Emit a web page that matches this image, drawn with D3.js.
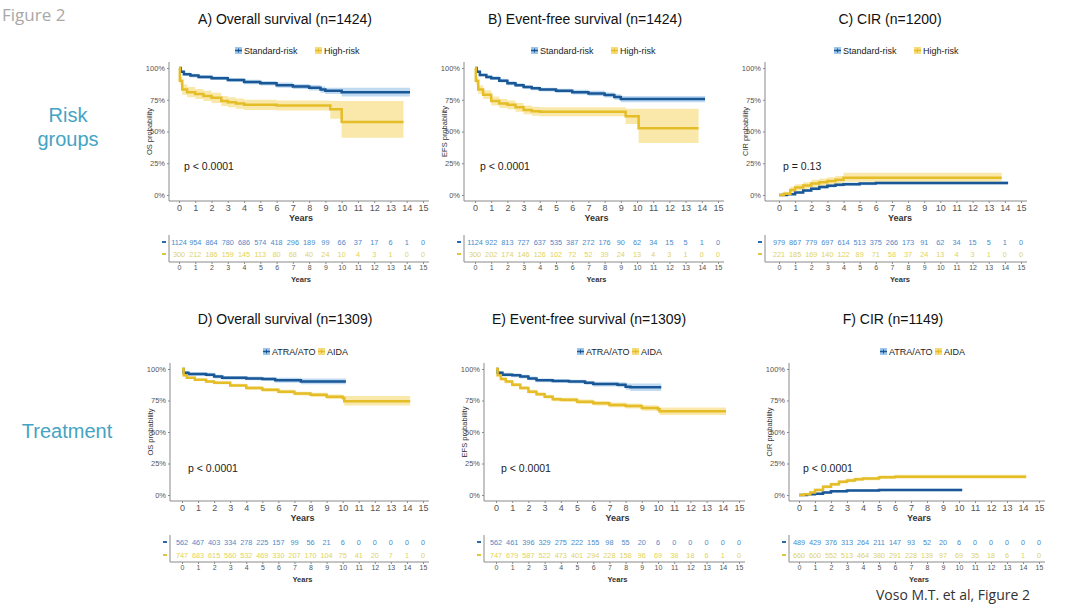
<!DOCTYPE html>
<html><head><meta charset="utf-8">
<script src="https://cdn.jsdelivr.net/npm/d3@7"></script>
<style>body{margin:0;background:#fff}text{font-family:"Liberation Sans",Arial,sans-serif}</style>
</head><body>
<svg id="c" width="1080" height="607"></svg>
<script>
// ---------------- DATA ----------------
const yearTicks = [0,1,2,3,4,5,6,7,8,9,10,11,12,13,14,15];
const pctTicks = [0,25,50,75,100];
const riskGroups = ["Standard-risk","High-risk"];
const treatments = ["ATRA/ATO","AIDA"];
const panelTitles = ["A) Overall survival (n=1424)","B) Event-free survival (n=1424)","C) CIR (n=1200)",
                     "D) Overall survival (n=1309)","E) Event-free survival (n=1309)","F) CIR (n=1149)"];
const yLabels = ["OS probability","EFS probability","CIR probability","OS probability","EFS probability","CIR probability"];
const pValues = ["p < 0.0001","p < 0.0001","p = 0.13","p < 0.0001","p < 0.0001","p < 0.0001"];

// [years, estimate %, lower %, upper %]
const osStandard = [[0,100,100,100],[0.1,97,96,98],[0.3,95,94,96.5],[0.7,94,92.5,95.5],[1.2,93,91.5,94.5],[2,92,90.5,93.5],[3,90.5,89,92],[4,89,87.3,90.7],[5,88,86.2,89.8],[6,86.5,84.5,88.5],[7,85.5,83.5,87.5],[8,84.5,82.3,86.7],[8.7,83,80.5,85.5],[9,82,79.5,84.5],[10,81,77.5,84.5],[14.2,81,77.5,84.5]];
const osHigh = [[0,100,100,100],[0.05,90,87,93],[0.2,83,79,87],[0.5,81,77,85],[1,79.5,75.5,83.5],[1.5,78,74,82],[2,76.5,72.5,80.5],[2.6,74,70,78],[3,73,69,77],[3.5,72,68,76],[4,71,67,75],[6,70.5,66.5,74.5],[9.3,67.5,60,74],[10,57.5,45,74],[13.8,57.5,45,74]];
const efsStandard = [[0,100,100,100],[0.1,97,96,98],[0.3,94.5,93.5,95.5],[0.7,93,91.5,94.5],[1,92,90.5,93.5],[1.5,90,88.5,91.5],[2,88,86.5,89.5],[2.5,86.5,85,88],[3,85,83.5,86.5],[3.5,84,82.5,85.5],[4,83,81.5,84.5],[5,82,80.3,83.7],[6,81,79.2,82.8],[7,80,78,82],[8,78.8,76.8,80.8],[8.6,77.2,75,79.4],[9,75.5,73,78],[14.2,75.5,73,78]];
const efsHigh = [[0,100,100,100],[0.05,90,87,93],[0.2,83,79.5,86.5],[0.5,79,75.5,82.5],[1,74,70.5,77.5],[1.5,72,68.5,75.5],[2,71,67.5,74.5],[2.5,69,65.5,72.5],[3,67,63.5,70.5],[3.5,66,62.5,69.5],[4,65.5,62,69],[9.3,62,56,68],[10.1,52.5,41,68],[13.8,52.5,41,68]];
const cirStandard = [[0,0,0,0],[0.5,0.5,0,1.5],[1,2,1,3],[1.5,3.5,2.3,4.7],[2,5,3.7,6.3],[2.5,6.3,5,7.6],[3,7.3,6,8.6],[3.5,8,6.7,9.3],[4,8.5,7.2,9.8],[5,9,7.7,10.3],[6,9.5,8.2,10.8],[14.2,9.5,8.2,10.8]];
const cirHigh = [[0,0,0,0],[0.3,1,0,2.5],[0.7,4,2,6.5],[1,6,3.5,8.5],[1.5,7.5,5,10],[2,9,6,12],[2.5,10,7,13],[3,11,8,14],[3.5,12,9,15],[4,13.5,10.5,17.5],[13.8,13.5,10.5,17.5]];
const osAtra = [[0,100,100,100],[0.1,97,96,98.5],[0.4,96,94.5,97.5],[1.5,95.5,94,97],[2,94,92.5,95.5],[2.5,93,91.5,94.5],[4,92.5,91,94],[5,92,90.5,93.5],[5.8,91,89,93],[7.4,90,87.8,92.5],[10.2,90,87.8,92.5]];
const osAida = [[0,100,100,100],[0.1,95,94,96],[0.3,93,92,94],[0.8,91.5,90.5,92.5],[1.5,90,88.8,91.2],[2,89,87.8,90.2],[3,87,85.7,88.3],[4,85,83.6,86.4],[5,83.5,82,85],[6,82,80.5,83.5],[7,80.5,79,82],[8,79.5,77.8,81.2],[9,78,76.2,79.8],[10,77,75,79],[10.1,74.5,71,78.5],[14.2,74.5,71,78.5]];
const efsAtra = [[0,100,100,100],[0.1,97,96,98.5],[0.4,95.5,94,97],[1,95,93.5,96.5],[1.5,94,92.5,95.5],[2,92.5,91,94],[2.5,91,89.5,92.5],[3.5,90.5,89,92],[4.5,90,88.5,91.5],[5.5,89,87.5,90.5],[6,88,86.2,89.8],[7.5,87.5,85.5,89.5],[8,86,83.5,88.5],[8.3,85.5,82.5,88.5],[10.2,85.5,82.5,88.5]];
const efsAida = [[0,100,100,100],[0.1,95,94,96],[0.3,92,90.8,93.2],[0.6,90,88.7,91.3],[1,87.5,86.2,88.8],[1.5,85,83.6,86.4],[2,82,80.5,83.5],[2.5,80,78.5,81.5],[3,78,76.5,79.5],[3.5,76,74.4,77.6],[4,75.5,73.9,77.1],[5,74,72.3,75.7],[6,72.8,71,74.6],[7,71.5,69.6,73.4],[8,70.6,68.6,72.6],[9,69,66.8,71.2],[10,68,65.5,70.5],[10.1,66.5,63.5,69.5],[14.2,66.5,63.5,69.5]];
const cirAtra = [[0,0,0,0],[0.5,0.5,0,1],[1,1,0.3,1.7],[1.5,2,1,3],[2,3,2,4],[3,3.5,2.5,4.5],[5,4,3,5],[10.2,4,3,5]];
const cirAida = [[0,0,0,0],[0.3,0.5,0,1],[0.7,2,1,3],[1,4,3,5],[1.5,6.5,5.3,7.7],[2,8.5,7.2,9.8],[2.5,10.5,9.2,11.8],[3,11.5,10.2,12.8],[3.5,12.5,11.2,13.8],[4,13,11.7,14.3],[5,14,12.6,15.4],[6,14.5,13,16],[14.2,14.5,13,16]];

// numbers at risk at years 0..15
const riskOsStd  = [1124,954,864,780,686,574,418,296,189,99,66,37,17,6,1,0];
const riskOsHigh = [300,212,186,159,145,113,80,68,40,24,10,4,3,1,0,0];
const riskEfsStd = [1124,922,813,727,637,535,387,272,176,90,62,34,15,5,1,0];
const riskEfsHigh= [300,202,174,146,126,102,72,52,39,24,13,4,3,1,0,0];
const riskCirStd = [979,867,779,697,614,513,375,266,173,91,62,34,15,5,1,0];
const riskCirHigh= [221,185,169,140,122,89,71,58,37,24,13,4,3,1,0,0];
const riskOsAtra = [562,467,403,334,278,225,157,99,56,21,6,0,0,0,0,0];
const riskOsAida = [747,683,615,560,532,469,330,207,170,104,75,41,20,7,1,0];
const riskEfsAtra= [562,461,396,329,275,222,155,98,55,20,6,0,0,0,0,0];
const riskEfsAida= [747,679,587,522,473,401,294,228,158,96,69,38,18,6,1,0];
const riskCirAtra= [489,429,376,313,264,211,147,93,52,20,6,0,0,0,0,0];
const riskCirAida= [660,600,552,513,464,380,291,228,139,97,69,35,18,6,1,0];

// ---------------- LAYOUT / STYLE ----------------
const C = {
  line:["#1a5796","#e4bd28"], band:["#9cc6ea","#f6dc7c"],
  risk:["#4a8bcb","#e2d35a"], dash:["#2a6aaa","#e0c640"]
};
const row1 = {yt:68, yb:195, axY:201, tTitle:24, tLeg:51, pY:170, r1:242, r2:254, rBase:262};
const row2 = {yt:369, yb:495, axY:501, tTitle:324, tLeg:352, pY:472, r1:542, r2:555, rBase:562};
const panels = [
  {row:row1, x0:179, x15:423, ax:169, tc:285, lc:302, groups:riskGroups, s:[osStandard,osHigh], r:[riskOsStd,riskOsHigh], pX:184},
  {row:row1, x0:475, x15:718, ax:464, tc:585, lc:598, groups:riskGroups, s:[efsStandard,efsHigh], r:[riskEfsStd,riskEfsHigh], pX:480},
  {row:row1, x0:779, x15:1021, ax:765, tc:890, lc:901, groups:riskGroups, s:[cirStandard,cirHigh], r:[riskCirStd,riskCirHigh], pX:783},
  {row:row2, x0:182, x15:423, ax:170, tc:285, lc:305, groups:treatments, s:[osAtra,osAida], r:[riskOsAtra,riskOsAida], pX:188},
  {row:row2, x0:496, x15:739, ax:484, tc:589, lc:619, groups:treatments, s:[efsAtra,efsAida], r:[riskEfsAtra,riskEfsAida], pX:501},
  {row:row2, x0:799, x15:1039, ax:789, tc:893, lc:922, groups:treatments, s:[cirAtra,cirAida], r:[riskCirAtra,riskCirAida], pX:803}
];

const svg = d3.select("#c");
svg.append("rect").attr("width",1080).attr("height",607).attr("fill","#fff");

svg.append("text").attr("x",2).attr("y",21).attr("font-size",17).attr("fill","#a8a8a8")
  .style("font-family","'Open Sans',sans-serif").text("Figure 2");
const side = svg.append("g").attr("fill","#45a3c3").style("font-family","Lato,'Open Sans',sans-serif").attr("font-size",20).attr("text-anchor","middle");
side.append("text").attr("x",68).attr("y",122).text("Risk");
side.append("text").attr("x",68).attr("y",146).text("groups");
side.append("text").attr("x",67).attr("y",438).text("Treatment");
svg.append("text").attr("x",1030).attr("y",600).attr("text-anchor","end").attr("font-size",14).attr("fill","#333")
  .style("font-family","'Open Sans',sans-serif").text("Voso M.T. et al, Figure 2");

const axisCol = "#8a8a8a", tickCol = "#555";

panels.forEach((p,i) => {
  const R = p.row;
  const g = svg.append("g");
  const x = d3.scaleLinear().domain([0,15]).range([p.x0,p.x15]);
  const y = d3.scaleLinear().domain([0,100]).range([R.yb,R.yt]);

  g.append("text").attr("x",p.tc).attr("y",R.tTitle).attr("text-anchor","middle")
    .attr("font-size",14).attr("fill","#111").text(panelTitles[i]);

  const leg = g.append("g").attr("font-size",9);
  const w0 = p.groups[0].length*5, w1 = p.groups[1].length*5;
  const total = 9 + w0 + 6 + 9 + w1;
  let lx = p.lc - total/2;
  p.groups.forEach((name,k) => {
    leg.append("rect").attr("x",lx).attr("y",R.tLeg-4).attr("width",7).attr("height",7).attr("fill",C.band[k]);
    leg.append("line").attr("x1",lx).attr("x2",lx+7).attr("y1",R.tLeg-0.5).attr("y2",R.tLeg-0.5).attr("stroke",C.line[k]).attr("stroke-width",1.5);
    leg.append("line").attr("x1",lx+3.5).attr("x2",lx+3.5).attr("y1",R.tLeg-2.5).attr("y2",R.tLeg+1.5).attr("stroke",C.line[k]).attr("stroke-width",1);
    leg.append("text").attr("x",lx+9).attr("y",R.tLeg+3).attr("fill","#222").text(name);
    lx += 9 + (k===0?w0:w1) + 6;
  });

  g.append("line").attr("x1",p.ax).attr("x2",p.ax).attr("y1",R.yt-6).attr("y2",R.axY).attr("stroke",axisCol);
  g.append("line").attr("x1",p.ax).attr("x2",p.x15+6).attr("y1",R.axY).attr("y2",R.axY).attr("stroke",axisCol);

  const ya = d3.axisLeft(y).tickValues(pctTicks).tickFormat(d=>d+"%").tickSize(2).tickPadding(2);
  const yg = g.append("g").attr("transform",`translate(${p.ax},0)`).call(ya);
  const xa = d3.axisBottom(x).tickValues(yearTicks).tickSize(2).tickPadding(2);
  const xg = g.append("g").attr("transform",`translate(0,${R.axY})`).call(xa);
  [yg,xg].forEach(a=>{
    a.select(".domain").remove();
    a.selectAll("line").attr("stroke",axisCol);
    a.selectAll("text").attr("fill",tickCol).attr("font-size",a===yg?7.5:9);
  });
  g.append("text").attr("x",(p.x0+p.x15)/2).attr("y",R.axY+20).attr("text-anchor","middle")
    .attr("font-size",9).attr("fill","#333").attr("font-weight","bold").text("Years");
  g.append("text").attr("transform",`translate(${p.ax-17},${(R.yt+R.yb)/2}) rotate(-90)`)
    .attr("text-anchor","middle").attr("font-size",7.5).attr("fill","#333").text(yLabels[i]);

  const area = d3.area().curve(d3.curveStepAfter).x(d=>x(d[0])).y0(d=>y(d[2])).y1(d=>y(d[3]));
  const line = d3.line().curve(d3.curveStepAfter).x(d=>x(d[0])).y(d=>y(d[1]));
  p.s.forEach((ser,k)=>{
    g.append("path").attr("d",area(ser)).attr("fill",C.band[k]).attr("opacity",0.65);
  });
  p.s.forEach((ser,k)=>{
    g.append("path").attr("d",line(ser)).attr("fill","none").attr("stroke",C.line[k]).attr("stroke-width",2.5);
  });

  g.append("text").attr("x",p.pX).attr("y",R.pY).attr("font-size",10.5).attr("fill","#222").text(pValues[i]);

  const tg = svg.append("g");
  const ry = d3.scalePoint().domain([0,1]).range([R.r1,R.r2]);
  tg.append("line").attr("x1",p.ax).attr("x2",p.ax).attr("y1",R.r1-7).attr("y2",R.rBase).attr("stroke",axisCol);
  tg.append("line").attr("x1",p.ax).attr("x2",p.x15+6).attr("y1",R.rBase).attr("y2",R.rBase).attr("stroke",axisCol);
  const txa = d3.axisBottom(x).tickValues(yearTicks).tickSize(2).tickPadding(1.5);
  const txg = tg.append("g").attr("transform",`translate(0,${R.rBase})`).call(txa);
  txg.select(".domain").remove();
  txg.selectAll("line").attr("stroke",axisCol);
  txg.selectAll("text").attr("fill",tickCol).attr("font-size",7);
  tg.append("text").attr("x",(p.x0+p.x15)/2).attr("y",R.rBase+20).attr("text-anchor","middle")
    .attr("font-size",7.5).attr("fill","#333").attr("font-weight","bold").text("Years");
  p.r.forEach((vals,k)=>{
    tg.append("line").attr("x1",p.ax-7).attr("x2",p.ax-3).attr("y1",ry(k)).attr("y2",ry(k))
      .attr("stroke",C.dash[k]).attr("stroke-width",2);
    tg.selectAll(null).data(vals).enter().append("text")
      .attr("x",(d,j)=>x(yearTicks[j])).attr("y",ry(k)+2.5).attr("text-anchor","middle")
      .attr("font-size",7.3).attr("fill",C.risk[k]).text(d=>d);
  });
});
</script>
</body></html>
